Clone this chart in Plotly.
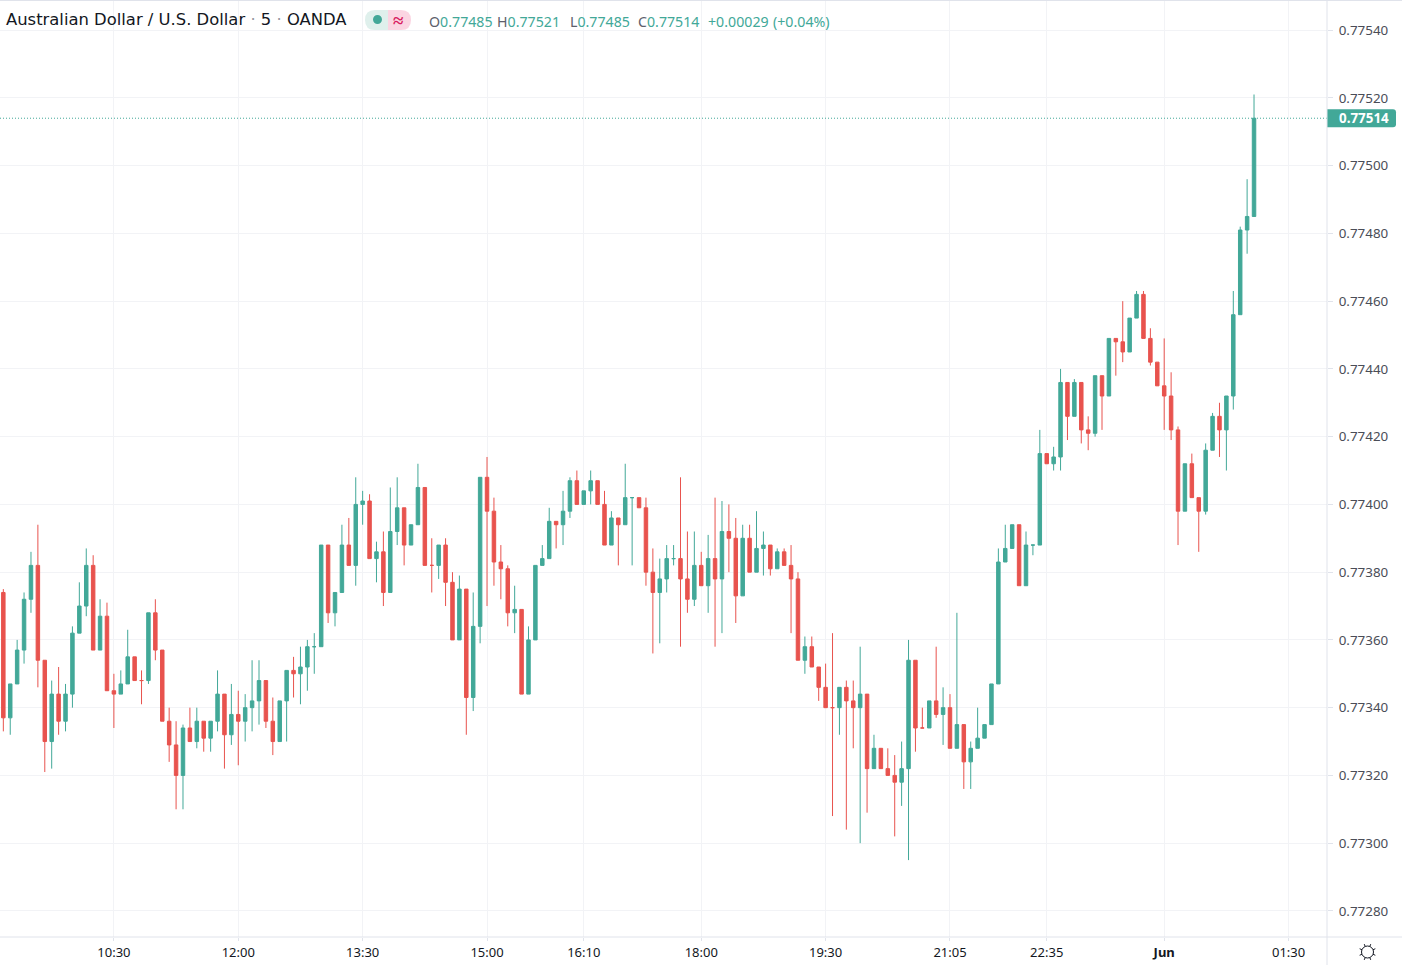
import math
import plotly.graph_objects as go

# 5 min AUD/USD candles, prices in 1/100000
opens = [77000 + v for v in [
    374,337,347,357,372,382,354,330,344,336,
    344,362,370,382,357,367,345,344,347,355,
    348,348,368,357,336,329,320,334,330,336,
    331,336,344,332,338,336,340,342,348,336,
    330,342,351,350,352,358,358,388,368,374,
    388,382,400,401,384,386,374,392,399,388,
    394,405,382,382,388,377,360,375,343,364,
    408,398,383,381,368,369,344,360,382,384,
    395,394,398,407,400,404,407,400,388,396,
    394,402,402,399,380,374,378,384,384,378,
    372,382,376,384,378,392,390,373,390,380,
    387,388,381,386,382,378,354,358,352,346,
    340,340,346,342,340,344,322,328,322,320,
    318,322,354,334,334,342,338,340,328,335,
    324,328,331,335,347,383,387,394,376,388,
    388,415,412,414,436,426,436,422,421,438,
    432,449,448,445,455,462,449,442,435,432,
    422,398,412,402,398,416,426,422,432,456,
    481,485]]
highs = [77000 + v for v in [
    375,347,360,374,386,394,354,348,352,347,
    364,377,387,385,372,371,350,351,363,355,
    351,368,372,357,340,336,335,340,340,336,
    336,351,344,347,345,344,354,354,348,343,
    342,351,355,358,360,362,388,388,374,394,
    396,408,404,403,389,392,405,408,399,394,
    412,405,390,388,390,380,379,375,374,408,
    414,402,388,382,376,369,364,382,388,399,
    395,404,408,410,404,410,407,404,398,396,
    412,402,402,402,387,384,388,388,408,392,
    392,386,391,402,401,400,396,394,394,398,
    392,388,387,387,388,380,361,361,352,353,
    362,346,348,348,358,344,332,328,328,326,
    330,360,354,340,342,358,346,344,368,335,
    330,340,335,347,387,394,394,394,392,388,
    422,415,417,440,436,437,436,426,438,438,
    449,449,460,455,463,463,452,442,449,439,
    423,412,415,402,418,427,430,432,463,482,
    496,521]]
lows = [77000 + v for v in [
    333,332,347,353,368,346,321,322,332,333,
    340,362,367,357,357,345,334,344,347,348,
    341,347,354,336,324,310,310,330,328,327,
    327,333,322,329,323,330,333,335,334,326,
    330,330,343,341,345,350,358,365,364,374,
    382,376,394,384,377,370,374,388,382,388,
    394,382,374,378,370,360,360,332,339,359,
    370,376,372,364,362,344,344,360,382,384,
    387,388,396,400,400,400,400,388,388,382,
    394,382,399,376,356,359,374,382,358,368,
    370,376,368,358,362,380,365,373,380,380,
    379,379,381,382,362,354,350,352,342,340,
    308,332,304,328,300,309,322,322,320,302,
    311,295,327,334,334,337,329,328,328,316,
    316,328,331,335,347,383,387,376,376,385,
    388,412,410,410,419,426,418,416,420,422,
    432,438,442,445,455,449,441,435,422,419,
    388,398,402,386,397,416,414,410,428,456,
    474,485]]
closes = [77000 + v for v in [
    337,347,357,372,382,354,330,344,336,344,
    362,370,382,357,367,345,344,347,355,348,
    348,368,357,336,329,320,334,330,336,331,
    336,344,332,338,336,340,342,348,336,330,
    342,351,350,352,358,358,388,368,374,388,
    382,400,401,384,386,374,392,399,388,394,
    405,382,382,388,377,360,375,343,364,408,
    398,383,381,368,369,344,360,382,384,395,
    394,398,407,400,404,407,400,388,396,394,
    402,402,399,380,374,378,384,384,378,372,
    382,376,384,378,392,390,373,390,380,387,
    388,381,386,382,378,354,358,352,346,340,
    340,346,342,340,344,322,328,322,320,318,
    322,354,334,334,342,338,340,328,335,324,
    328,331,335,347,383,387,394,376,388,388,
    415,412,414,436,426,436,422,421,438,432,
    449,448,445,455,462,449,442,435,432,422,
    398,412,402,398,416,426,422,432,456,481,
    485,514]]

bar_index = list(range(len(closes)))
time_pos = [16, 34, 52, 70, 84, 101, 119, 137, 151, 168, 186]
time_labels = ["10:30", "12:00", "13:30", "15:00", "16:10", "18:00", "19:30", "21:05", "22:35", "<b>Jun</b>", "01:30"]
price_ticks = [0.7728, 0.7730, 0.7732, 0.7734, 0.7736, 0.7738, 0.7740, 0.7742, 0.7744, 0.7746, 0.7748, 0.7750, 0.7752, 0.7754]

GREEN = "#42a898"
RED = "#e8534e"
GRID = "#f2f3f6"
BORDER = "#e0e3eb"
FONT = "Noto Sans"
PLOT_W = 1327
PLOT_H = 937


def px(x):
    return x / PLOT_W


def py(y):
    return 1 - y / PLOT_H


fig = go.Figure(go.Candlestick(
    x=bar_index,
    open=[v / 100000 for v in opens],
    high=[v / 100000 for v in highs],
    low=[v / 100000 for v in lows],
    close=[v / 100000 for v in closes],
    increasing=dict(line=dict(color=GREEN, width=1), fillcolor=GREEN),
    decreasing=dict(line=dict(color=RED, width=1), fillcolor=RED),
    whiskerwidth=0,
    hoverinfo="skip",
))

last_c = closes[-1] / 100000

shapes = [
    # last price line
    dict(type="line", xref="paper", x0=0, x1=1, yref="y", y0=last_c, y1=last_c,
         line=dict(color=GREEN, width=1, dash="1px,2px")),
    # last price tag
    dict(type="path", xref="paper", xsizemode="pixel", xanchor=1, yref="y", ysizemode="pixel", yanchor=last_c,
         path="M 0 -9 L 66 -9 Q 69 -9 69 -6 L 69 6 Q 69 9 66 9 L 0 9 Z", fillcolor=GREEN, line=dict(width=0)),
    # frame lines
    dict(type="line", xref="paper", x0=px(PLOT_W), x1=px(PLOT_W), yref="paper", y0=py(0), y1=py(965),
         line=dict(color=BORDER, width=1)),
    dict(type="line", xref="paper", x0=0, x1=px(1402), yref="paper", y0=py(PLOT_H), y1=py(PLOT_H),
         line=dict(color=BORDER, width=1)),
    dict(type="line", xref="paper", x0=0, x1=px(1402), yref="paper", y0=py(0.5), y1=py(0.5),
         line=dict(color=BORDER, width=1)),
    # status pill
    dict(type="path", xref="paper", yref="paper", line=dict(width=0), fillcolor="#dff0ec",
         path=f"M {px(388)} {py(10)} L {px(375)} {py(10)} Q {px(365)} {py(10)} {px(365)} {py(20)} "
              f"Q {px(365)} {py(30)} {px(375)} {py(30)} L {px(388)} {py(30)} Z"),
    dict(type="path", xref="paper", yref="paper", line=dict(width=0), fillcolor="#fbd5e2",
         path=f"M {px(388)} {py(10)} L {px(401)} {py(10)} Q {px(411)} {py(10)} {px(411)} {py(20)} "
              f"Q {px(411)} {py(30)} {px(401)} {py(30)} L {px(388)} {py(30)} Z"),
    dict(type="circle", xref="paper", yref="paper", x0=px(373), x1=px(382), y0=py(15), y1=py(24),
         fillcolor=GREEN, line=dict(width=0)),
    # settings icon
    dict(type="circle", xref="paper", yref="paper", x0=px(1361.5), x1=px(1373.5), y0=py(946), y1=py(958),
         line=dict(color="#131722", width=1)),
]
for k in range(8):
    a = k * math.pi / 4 + math.pi / 8
    shapes.append(dict(type="line", xref="paper", yref="paper",
                       x0=px(1367.5 + 6 * math.cos(a)), x1=px(1367.5 + 8.5 * math.cos(a)),
                       y0=py(952 + 6 * math.sin(a)), y1=py(952 + 8.5 * math.sin(a)),
                       line=dict(color="#131722", width=1)))

annotations = [
    dict(xref="paper", yref="paper", x=px(4), y=py(20), xanchor="left", yanchor="middle", showarrow=False,
         text="Australian Dollar / U.S. Dollar <span style='color:#9598a1'>·</span> 5 <span style='color:#9598a1'>·</span> OANDA",
         font=dict(family="DejaVu Sans", size=16.4, color="#131722")),
    dict(xref="paper", yref="paper", x=px(398), y=py(20), xanchor="center", yanchor="middle", showarrow=False,
         text="<b>≈</b>", font=dict(family=FONT, size=19, color="#d81b60")),
    dict(xref="paper", yref="y", x=px(1364), y=last_c, xanchor="center", yanchor="middle", showarrow=False,
         text=f"<b>{last_c:.5f}</b>", font=dict(family=FONT, size=13.4, color="#ffffff")),
]

# OHLC readout of the last bar, one piece per field
last_o, last_h, last_l = opens[-1] / 100000, highs[-1] / 100000, lows[-1] / 100000
diff = last_c - last_o
readout = [
    (427, f"<span style='color:#5d606b'>O</span>{last_o:.5f}"),
    (495, f"<span style='color:#5d606b'>H</span>{last_h:.5f}"),
    (568, f"<span style='color:#5d606b'>L</span>{last_l:.5f}"),
    (636, f"<span style='color:#5d606b'>C</span>{last_c:.5f}"),
    (706, f"+{diff:.5f}"),
    (771, f"(+{diff / last_o * 100:.2f}%)"),
]
for xp, txt in readout:
    annotations.append(dict(xref="paper", yref="paper", x=px(xp), y=py(21), xanchor="left", yanchor="middle",
                            showarrow=False, text=txt, font=dict(family=FONT, size=14.2, color=GREEN)))

fig.update_layout(
    width=1402,
    height=965,
    margin=dict(l=0, r=75, t=0, b=28),
    paper_bgcolor="#ffffff",
    plot_bgcolor="#ffffff",
    showlegend=False,
    boxgap=0.28,
    shapes=shapes,
    annotations=annotations,
    xaxis=dict(
        range=[-0.482, 191.56],
        rangeslider=dict(visible=False),
        tickmode="array",
        tickvals=time_pos,
        ticktext=time_labels,
        ticks="outside",
        ticklen=3,
        tickcolor=BORDER,
        tickfont=dict(family=FONT, size=13, color="#131722"),
        gridcolor=GRID,
        gridwidth=1,
        zeroline=False,
        showline=False,
    ),
    yaxis=dict(
        side="right",
        range=[0.772723, 0.775489],
        tickmode="array",
        tickvals=price_ticks,
        ticktext=[f"{v:.5f}" for v in price_ticks],
        ticks="outside",
        ticklen=5,
        ticklabelstandoff=3,
        tickcolor=BORDER,
        tickfont=dict(family=FONT, size=13.4, color="#4a4d57"),
        gridcolor=GRID,
        gridwidth=1,
        zeroline=False,
        showline=False,
    ),
)

fig.write_html("out.html", config={"displayModeBar": False}, post_script="document.body.style.margin='0';")
